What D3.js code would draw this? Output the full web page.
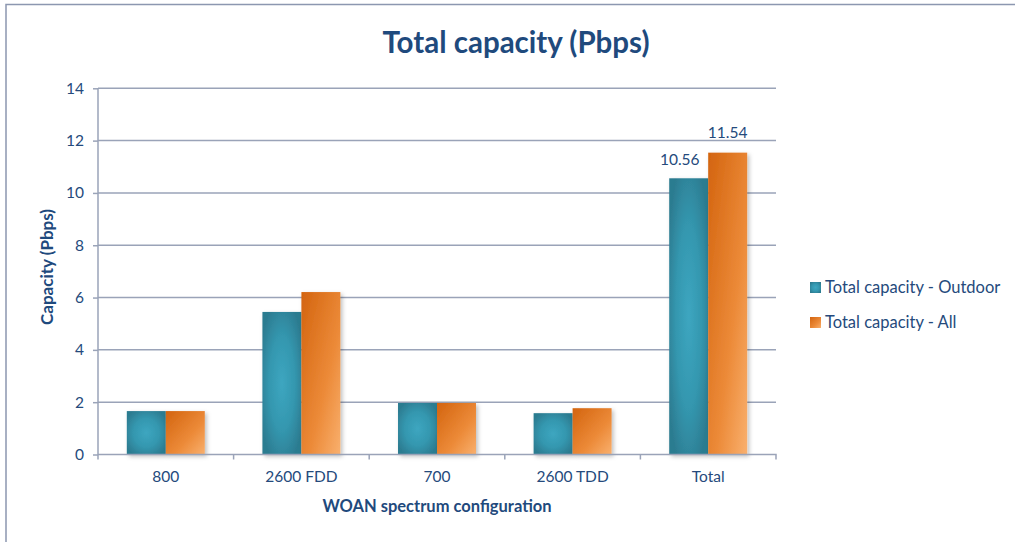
<!DOCTYPE html>
<html>
<head>
<meta charset="utf-8">
<script src="https://cdn.jsdelivr.net/npm/d3@7"></script>
<style>
html,body{margin:0;padding:0;background:#fff;}
svg{display:block;font-family:Lato,"Open Sans",sans-serif;}
</style>
</head>
<body>
<svg id="chart" width="1015" height="542"></svg>
<script>
const categories = ["800", "2600 FDD", "700", "2600 TDD", "Total"];
const outdoorValues = [1.66, 5.45, 1.97, 1.58, 10.56];
const allValues = [1.66, 6.21, 1.97, 1.77, 11.54];
const seriesNames = ["Total capacity - Outdoor", "Total capacity - All"];
const yTicks = [0, 2, 4, 6, 8, 10, 12, 14];
const labelOutdoor = [null, null, null, null, "10.56"];
const labelAll = [null, null, null, null, "11.54"];

const textColor = "#254A7C";
const gridColor = "#9AA3B8";

const svg = d3.select("#chart");
const defs = svg.append("defs");

const rg = defs.append("radialGradient").attr("id", "tealGrad")
  .attr("cx", "50%").attr("cy", "50%").attr("r", "60%");
rg.append("stop").attr("offset", "0%").attr("stop-color", "#3DA6C0");
rg.append("stop").attr("offset", "55%").attr("stop-color", "#3497AF");
rg.append("stop").attr("offset", "100%").attr("stop-color", "#2C7B90");

const lg = defs.append("linearGradient").attr("id", "orangeGrad")
  .attr("x1", "0%").attr("y1", "0%").attr("x2", "100%").attr("y2", "100%");
lg.append("stop").attr("offset", "0%").attr("stop-color", "#D3640F");
lg.append("stop").attr("offset", "60%").attr("stop-color", "#EC8A38");
lg.append("stop").attr("offset", "100%").attr("stop-color", "#F9B06E");

const shadow = defs.append("filter").attr("id", "shadow")
  .attr("x", "-20%").attr("y", "-10%").attr("width", "150%").attr("height", "130%");
shadow.append("feDropShadow").attr("dx", 2).attr("dy", 2).attr("stdDeviation", 2)
  .attr("flood-color", "#000").attr("flood-opacity", 0.25);

svg.append("path").attr("d", "M6,542 L6,4.5 L1015,4.5")
  .attr("fill", "none").attr("stroke", "#8C97B0").attr("stroke-width", 1.5);

const plotLeft = 98, plotRight = 776, plotTop = 88.3, plotBottom = 454.5;

const x = d3.scaleBand().domain(categories).range([plotLeft, plotRight])
  .paddingInner(0.425).paddingOuter(0.2125);
const xs = d3.scaleBand().domain(seriesNames).range([0, x.bandwidth()]);
const y = d3.scaleLinear().domain([0, 14]).range([plotBottom, plotTop]);

svg.append("g").selectAll("line").data(yTicks.filter(d => d > 0)).join("line")
  .attr("x1", plotLeft).attr("x2", plotRight)
  .attr("y1", d => y(d)).attr("y2", d => y(d))
  .attr("stroke", gridColor).attr("stroke-width", 1.5);

const yAxis = svg.append("g").attr("transform", `translate(${plotLeft},0)`)
  .call(d3.axisLeft(y).tickValues(yTicks).tickSize(5).tickPadding(9));
yAxis.select(".domain").attr("stroke", gridColor).attr("stroke-width", 1.5)
  .attr("d", `M0,${plotTop}V${plotBottom + 5}`);
yAxis.selectAll(".tick line").attr("stroke", gridColor).attr("stroke-width", 1.5);
yAxis.selectAll(".tick text").attr("fill", textColor)
  .style("font-size", "15.5px").style("font-family", "Lato, sans-serif");

const groups = svg.append("g").selectAll("g").data(categories).join("g")
  .attr("transform", d => `translate(${x(d)},0)`);
groups.append("rect")
  .attr("x", xs(seriesNames[0])).attr("width", xs.bandwidth())
  .attr("y", (d, i) => y(outdoorValues[i]))
  .attr("height", (d, i) => y(0) - y(outdoorValues[i]))
  .attr("fill", "url(#tealGrad)").attr("filter", "url(#shadow)");
groups.append("rect")
  .attr("x", xs(seriesNames[1])).attr("width", xs.bandwidth())
  .attr("y", (d, i) => y(allValues[i]))
  .attr("height", (d, i) => y(0) - y(allValues[i]))
  .attr("fill", "url(#orangeGrad)").attr("filter", "url(#shadow)");

const xAxis = svg.append("g").attr("transform", `translate(0,${plotBottom})`)
  .call(d3.axisBottom(x).tickSize(0).tickPadding(16));
xAxis.select(".domain").attr("stroke", gridColor).attr("stroke-width", 1.5)
  .attr("d", `M${plotLeft},0H${plotRight}V5`);
xAxis.selectAll(".tick text").attr("fill", textColor)
  .style("font-size", "15.5px").style("font-family", "Lato, sans-serif");
const seps = categories.slice(1).map(c => x(c) - x.step() * x.paddingInner() / 2);
svg.append("g").selectAll("line").data(seps).join("line")
  .attr("x1", d => d).attr("x2", d => d)
  .attr("y1", plotBottom).attr("y2", plotBottom + 5)
  .attr("stroke", gridColor).attr("stroke-width", 1.5);

groups.append("text")
  .attr("x", xs(seriesNames[0]) + xs.bandwidth() / 2 - 9)
  .attr("y", (d, i) => y(outdoorValues[i]) - 13)
  .attr("text-anchor", "middle").attr("fill", textColor)
  .style("font-size", "15.5px")
  .text((d, i) => labelOutdoor[i] || "");
groups.append("text")
  .attr("x", xs(seriesNames[1]) + xs.bandwidth() / 2)
  .attr("y", (d, i) => y(allValues[i]) - 15)
  .attr("text-anchor", "middle").attr("fill", textColor)
  .style("font-size", "15.5px")
  .text((d, i) => labelAll[i] || "");

svg.append("text").attr("x", 516).attr("y", 53).attr("text-anchor", "middle")
  .attr("fill", "#1F4A7D").style("font-size", "29.5px").style("font-weight", "bold")
  .text("Total capacity (Pbps)");

svg.append("text").attr("transform", "translate(53,267) rotate(-90)")
  .attr("text-anchor", "middle").attr("fill", "#1F4A7D")
  .style("font-size", "17px").style("font-weight", "bold")
  .text("Capacity (Pbps)");
svg.append("text").attr("x", 437).attr("y", 512).attr("text-anchor", "middle")
  .attr("fill", "#1F4A7D").style("font-size", "16.5px").style("font-weight", "bold")
  .text("WOAN spectrum configuration");

const legend = svg.append("g").selectAll("g").data(seriesNames).join("g")
  .attr("transform", (d, i) => `translate(810,${282 + i * 35})`);
legend.append("rect").attr("width", 11).attr("height", 11)
  .attr("fill", (d, i) => i === 0 ? "url(#tealGrad)" : "url(#orangeGrad)");
legend.append("text").attr("x", 15).attr("y", 11).attr("fill", textColor)
  .style("font-size", "16.5px").text(d => d);
</script>
</body>
</html>
